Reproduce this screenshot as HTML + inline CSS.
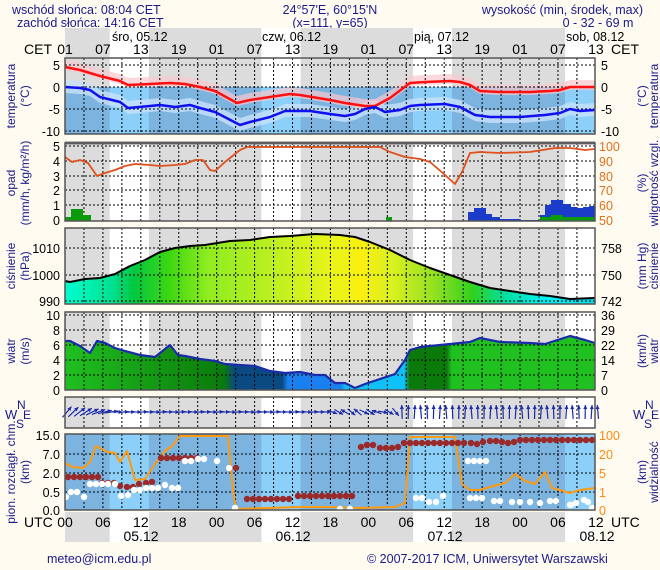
<!DOCTYPE html>
<html><head><meta charset="utf-8">
<style>
html,body{margin:0;padding:0;background:#fffbf0;}
svg{display:block;font-family:"Liberation Sans",sans-serif;}
</style></head>
<body>
<svg id="s" width="660" height="570" xmlns="http://www.w3.org/2000/svg"></svg>
<script>
var o=[];
function X(h){return 65+h*6.32;}
function poly(pts){return pts.map(function(p){return p[0]+','+p[1];}).join(' ');}
function T(x,y,t,a,c,sz,anch){o.push('<text x="'+x+'" y="'+y+'" fill="'+(c||'#000')+'" font-size="'+(sz||12.5)+'" text-anchor="'+(anch||'start')+'">'+t+'</text>');}
function RT(x,y,t,c){o.push('<text x="'+x+'" y="'+y+'" fill="'+c+'" font-size="12" text-anchor="middle" transform="rotate(-90 '+x+' '+y+')">'+t+'</text>');}
var L=65,R=595;
var days=[[109.7,148.9],[261.4,300.6],[413,452],[565,595]];
function bg(y1,y2,g,w){o.push('<rect x="'+L+'" y="'+y1+'" width="'+(R-L)+'" height="'+(y2-y1)+'" fill="'+g+'"/>');
 days.forEach(function(d){o.push('<rect x="'+d[0]+'" y="'+y1+'" width="'+(d[1]-d[0])+'" height="'+(y2-y1)+'" fill="'+w+'"/>');});}
function vgrid(y1,y2){for(var h=3;h<84;h+=3){var x=X(h);o.push('<line x1="'+x+'" y1="'+y1+'" x2="'+x+'" y2="'+y2+'" stroke="#000" stroke-dasharray="2,2" stroke-width="1"/>');}}
function hgrid(ys){ys.forEach(function(y){o.push('<line x1="'+L+'" y1="'+y+'" x2="'+R+'" y2="'+y+'" stroke="#000" stroke-dasharray="2,2" stroke-width="1"/>');});}
function frame(y1,y2){o.push('<rect x="'+L+'" y="'+y1+'" width="'+(R-L)+'" height="'+(y2-y1)+'" fill="none" stroke="#555" stroke-width="1.5"/>');}
function line(pts,c,w){o.push('<polyline points="'+poly(pts)+'" fill="none" stroke="'+c+'" stroke-width="'+w+'" stroke-linejoin="round"/>');}
function shift(pts,d){return pts.map(function(p){return [p[0],p[1]+d];});}
function band(pts,up,dn,c){var a=shift(pts,-up),b=shift(pts,dn).reverse();o.push('<polygon points="'+poly(a.concat(b))+'" fill="'+c+'"/>');}

var B='#1a1a8c';
T(12,14,'wschód słońca: 08:04 CET',0,B);
T(17,27,'zachód słońca: 14:16 CET',0,B);
T(330,14,'24°57\'E, 60°15\'N',0,B,12.5,'middle');
T(330,27,'(x=111, y=65)',0,B,12.5,'middle');
T(643,14,'wysokość (min, środek, max)',0,B,12.5,'end');
T(598,27,'0 - 32 - 69 m',0,B,12.5,'middle');
bg(28,57,'#dcdcdc','#ffffff');
T(112,41,'śro, 05.12',0,'#000',12.5);T(262,41,'czw, 06.12',0,'#000',12.5);T(414,41,'pią, 07.12',0,'#000',12.5);T(566,41,'sob, 08.12',0,'#000',12.5);
T(24,54,'CET',0,'#000',14);T(611,54,'CET',0,'#000',14);
var cet=['01','07','13','19'];
for(var i=0;i<=14;i++){T(X(i*6),54,cet[i%4],0,'#000',14,'middle');}
bg(512,542,'#dcdcdc','#ffffff');
T(24,527,'UTC',0,'#000',14);T(611,527,'UTC',0,'#000',14);
var utc=['00','06','12','18'];
for(var i=0;i<=14;i++){T(X(i*6),527,utc[i%4],0,'#000',14,'middle');}
T(141,541,'05.12',0,'#000',14,'middle');T(293,541,'06.12',0,'#000',14,'middle');T(445,541,'07.12',0,'#000',14,'middle');T(597,541,'08.12',0,'#000',14,'middle');

// TEMPERATURE
bg(58,134,'#dcdcdc','#ffffff');
o.push('<rect x="'+L+'" y="87" width="'+(R-L)+'" height="47" fill="#7db3df"/>');
days.forEach(function(d){o.push('<rect x="'+d[0]+'" y="87" width="'+(d[1]-d[0])+'" height="47" fill="#8ccff8"/>');});
var red=[[65,67],[80,70],[100,76],[120,81],[128,85],[150,84],[170,83],[185,84],[200,87],[215,91],[237,103],[250,100],[270,97],[290,94],[300,95],[330,100],[345,103],[365,106],[375,106],[390,98],[410,83],[425,82],[450,81],[460,82],[470,85],[480,91],[500,92],[530,92],[550,91],[560,90],[570,87],[595,87]];
var blue=[[65,87],[80,88],[90,90],[100,97],[120,102],[128,108],[150,106],[160,105],[175,107],[190,105],[200,108],[215,112],[240,125],[250,122],[270,117],[285,111],[310,111],[330,114],[345,116],[355,114],[365,109],[375,107],[385,112],[400,110],[410,106],[420,105],[445,104],[460,107],[475,115],[490,117],[520,117],[545,115],[560,113],[570,109],[580,111],[595,110]];
band(blue,7,6,'rgba(200,225,250,0.8)');
band(red,7,3,'rgba(250,200,205,0.7)');
vgrid(58,134);hgrid([65,87,109,131]);
line(red,'#ff1010',2.5);line(blue,'#1010ee',2.5);
frame(58,134);
[[5,65],[0,87],[-5,109],[-10,131]].forEach(function(t){T(60,t[1]+5,t[0],0,'#000',12.5,'end');T(601,t[1]+5,t[0],0,'#000',12.5);});
RT(15,96,'temperatura',B);RT(29,96,'(°C)',B);RT(646,96,'(°C)',B);RT(658,96,'temperatura',B);

// PRECIP
bg(143,221,'#dcdcdc','#ffffff');
vgrid(143,221);hgrid([146,161,176,190,205]);
o.push('<rect x="65" y="217" width="6" height="4" fill="#0a9a0a"/><rect x="71" y="209" width="12" height="12" fill="#0a9a0a"/><rect x="83" y="215" width="8" height="6" fill="#0a9a0a"/><rect x="386" y="217" width="6" height="4" fill="#0a9a0a"/>');
var pb=[[468,212],[474,208],[480,208],[486,214],[492,217],[500,219],[520,220],[540,215],[545,205],[551,200],[557,200],[563,204],[571,207],[577,208],[583,207],[589,206],[595,206]];
var pts=[[468,221]];pb.forEach(function(p,i){var nx=i<pb.length-1?pb[i+1][0]:595;pts.push([p[0],p[1]]);pts.push([nx,p[1]]);});pts.push([595,221]);
o.push('<polygon points="'+poly(pts)+'" fill="#1a3cc8"/>');
o.push('<rect x="540" y="217" width="55" height="4" fill="#0a9a0a"/><rect x="551" y="215" width="12" height="6" fill="#0a9a0a"/>');
var hum=[[65,157],[72,162],[80,160],[88,163],[97,176],[105,173],[115,170],[125,166],[135,164],[150,165],[160,166],[175,165],[185,164],[195,160],[203,160],[210,170],[215,171],[225,162],[240,150],[247,147],[330,147],[380,147],[390,152],[405,157],[420,159],[430,162],[445,175],[455,184],[462,172],[470,153],[480,152],[500,153],[530,152],[555,148],[570,148],[585,150],[595,149]];
line(hum,'#e0501c',1.8);
o.push('<line x1="65" y1="143" x2="595" y2="143" stroke="#777" stroke-width="3"/>');
frame(143,221);
[[5,146],[4,161],[3,176],[2,190],[1,205],[0,220]].forEach(function(t){T(60,t[1]+5,t[0],0,'#000',12.5,'end');});
[[100,146],[90,161],[80,176],[70,190],[60,205],[50,220]].forEach(function(t){T(599,t[1]+5,t[0],0,'#e0701c',12.5);});
RT(15,183,'opad',B);RT(29,183,'(mm/h, kg/m²/h)',B);RT(646,183,'(%)',B);RT(658,183,'wilgotność wzgl.',B);

// PRESSURE
bg(228,304,'#dcdcdc','#ffffff');
o.push('<defs><linearGradient id="pg" x1="65" y1="0" x2="595" y2="0" gradientUnits="userSpaceOnUse"><stop offset="0" stop-color="#00ffd0"/><stop offset="0.09" stop-color="#00e090"/><stop offset="0.13" stop-color="#00c840"/><stop offset="0.2" stop-color="#40d810"/><stop offset="0.27" stop-color="#90ec20"/><stop offset="0.4" stop-color="#c0f020"/><stop offset="0.5" stop-color="#e8f418"/><stop offset="0.56" stop-color="#f8f010"/><stop offset="0.62" stop-color="#d8f020"/><stop offset="0.7" stop-color="#90e020"/><stop offset="0.77" stop-color="#30d020"/><stop offset="0.83" stop-color="#00e0a0"/><stop offset="0.9" stop-color="#00f0f0"/><stop offset="1" stop-color="#00e0f0"/></linearGradient>'+
'<linearGradient id="wg" x1="65" y1="0" x2="595" y2="0" gradientUnits="userSpaceOnUse"><stop offset="0" stop-color="#20c020"/><stop offset="0.3" stop-color="#0a7a0a"/><stop offset="0.32" stop-color="#0a4a80"/><stop offset="0.41" stop-color="#0a4a80"/><stop offset="0.42" stop-color="#1a80f0"/><stop offset="0.52" stop-color="#1a80f0"/><stop offset="0.53" stop-color="#10c0f8"/><stop offset="0.64" stop-color="#10c0f8"/><stop offset="0.65" stop-color="#0a7a0a"/><stop offset="0.72" stop-color="#0a7a0a"/><stop offset="0.73" stop-color="#20c020"/><stop offset="1" stop-color="#20c020"/></linearGradient></defs>');
var pr=[[65,281],[70,282],[85,279],[100,278],[115,274],[130,266],[145,260],[160,252],[175,248],[190,246],[205,245],[230,241],[250,240],[270,237],[290,236],[315,234],[340,235],[355,237],[370,242],[390,250],[410,260],[430,268],[450,275],[470,282],[490,288],[510,291],[530,294],[550,296],[570,299],[595,298]];
o.push('<polygon points="'+poly([[65,304]].concat(pr,[[595,304]]))+'" fill="url(#pg)"/>');
vgrid(228,304);hgrid([248,275,301]);
line(pr,'#000',2);
frame(228,304);
[[1010,248],[1000,275],[990,301]].forEach(function(t){T(60,t[1]+5,t[0],0,'#000',12.5,'end');});
[[758,248],[750,275],[742,301]].forEach(function(t){T(601,t[1]+5,t[0],0,'#000',12.5);});
RT(15,266,'ciśnienie',B);RT(29,266,'(hPa)',B);RT(646,266,'(mm Hg)',B);RT(658,266,'ciśnienie',B);

// WIND
bg(312,390,'#dcdcdc','#ffffff');
var wd=[[65,341],[70,341],[80,346],[90,353],[97,341],[105,343],[115,348],[125,351],[140,355],[155,357],[170,345],[178,355],[185,356],[200,359],[215,361],[225,364],[240,365],[255,366],[270,371],[285,373],[300,372],[315,375],[325,375],[335,383],[345,383],[355,388],[365,384],[380,379],[395,374],[405,360],[410,350],[420,347],[440,345],[470,342],[480,338],[500,342],[530,343],[545,344],[570,336],[585,340],[595,343]];
o.push('<polygon points="'+poly([[65,390]].concat(wd,[[595,390]]))+'" fill="url(#wg)"/>');
vgrid(312,390);hgrid([315,330,345,360,375]);
line(wd,'#1a2aa8',2.2);
frame(312,390);
[[10,315],[8,330],[6,345],[4,360],[2,375],[0,390]].forEach(function(t){T(60,t[1]+5,t[0],0,'#000',12.5,'end');});
[[36,315],[29,330],[22,345],[14,360],[7,375],[0,390]].forEach(function(t){T(601,t[1]+5,t[0],0,'#000',12.5);});
RT(15,351,'wiatr',B);RT(29,351,'(m/s)',B);RT(646,351,'(km/h)',B);RT(658,351,'wiatr',B);

// WIND DIR
bg(397,428,'#dcdcdc','#ffffff');
vgrid(397,428);
for(var h=0;h<=84;h++){var x=X(h)+2,ang;
 if(h<8)ang=40+h*6;else if(h<42)ang=85+(h%3)*3;else if(h<53)ang=[110,120,300,130,310,115,125,290,100,120,140][h-42];else ang=-5+(h%4)*3;
 var r=ang*Math.PI/180,len=h<8?14:(h>=53?14:10),cx=x,cy=412;
 var dx=Math.sin(r)*len/2,dy=-Math.cos(r)*len/2;
 o.push('<line x1="'+(cx-dx)+'" y1="'+(cy-dy)+'" x2="'+(cx+dx)+'" y2="'+(cy+dy)+'" stroke="#1a2aa8" stroke-width="1.2"/>');
 var hx=cx+dx,hy=cy+dy,bx=-Math.sin(r)*4,by=Math.cos(r)*4,px=Math.cos(r)*2,py=Math.sin(r)*2;
 o.push('<polygon points="'+hx+','+hy+' '+(hx+bx+px)+','+(hy+by+py)+' '+(hx+bx-px)+','+(hy+by-py)+'" fill="#1a2aa8"/>');}
frame(397,428);
T(5,419,'W',0,B,13);T(17,409,'N',0,B,12);T(16,428,'S',0,B,12);T(23,419,'E',0,B,12);
T(633,419,'W',0,B,13);T(645,409,'N',0,B,12);T(644,428,'S',0,B,12);T(651,419,'E',0,B,12);

// CLOUDS
bg(434,510,'#7db3df','#8ccff8');
vgrid(434,510);hgrid([454,473,492]);
var vis=[[65,463],[72,467],[83,468],[90,462],[96,446],[107,452],[115,453],[120,462],[127,451],[135,480],[145,479],[155,464],[165,451],[172,446],[180,436],[228,436],[233,490],[236,509],[300,507],[330,507],[360,508],[395,507],[405,503],[410,437],[455,437],[462,484],[470,490],[480,490],[490,487],[505,483],[515,474],[525,481],[535,484],[545,472],[552,488],[570,493],[580,490],[595,488]];
line(vis,'#ff9a10',2);
var dots='';
function dot(x,y,c){dots+='<circle cx="'+x+'" cy="'+y+'" r="3.2" fill="'+c+'"/>';}
var M='#9a2a2a',W='#ffffff';
for(var x=68;x<=98;x+=6)dot(x,477,M);
[[102,483],[108,483],[114,483],[120,486],[127,487],[133,487],[139,484],[146,483],[152,482]].forEach(function(p){dot(p[0],p[1],M);});
for(var x=161;x<=198;x+=6)dot(x,458,M);
dot(229,468,M);dot(236,468,M);
for(var x=247;x<=292;x+=6)dot(x,499,M);
for(var x=298;x<=357;x+=6)dot(x,496,M);
[[361,447],[367,445],[373,445],[380,448],[386,448],[392,448],[398,447],[404,443]].forEach(function(p){dot(p[0],p[1],M);});
for(var x=410;x<=465;x+=6)dot(x,443,M);
[[471,443],[477,444],[483,442],[490,441],[496,441],[502,442],[508,443],[514,442]].forEach(function(p){dot(p[0],p[1],M);});
for(var x=520;x<=596;x+=6)dot(x,440,M);
[[66,497],[71,492],[77,492],[84,497],[90,484],[96,484],[102,484],[108,484],[115,484],[121,496],[128,495],[134,490],[140,490],[146,488],[152,488],[158,488],[165,485],[172,488],[178,488],[185,461],[191,461],[198,459],[204,459],[217,461],[229,468],[235,508],[340,509],[350,509],[416,498],[422,498],[429,502],[436,502],[443,496],[468,461],[474,461],[480,461],[486,461],[470,498],[476,498],[482,498],[494,501],[500,501],[512,502],[520,502],[530,502],[540,503],[550,501],[556,501],[570,505],[592,508],[598,500],[571,505],[576,503],[584,500],[588,502]].forEach(function(p){dot(p[0],p[1],W);});
o.push(dots);
frame(434,510);
[['15.0',435],['7.0',454],['2.0',473],['0.5',492],['0.0',510]].forEach(function(t){T(60,t[1]+5,t[0],0,'#000',12.5,'end');});
[['100',435],['20',454],['5',473],['1',492],['0',510]].forEach(function(t){T(599,t[1]+5,t[0],0,'#ff8a10',12.5);});
RT(15,472,'pion. rozciągł. chm.',B);RT(29,472,'(km)',B);RT(646,472,'(km)',B);RT(658,472,'widzialność',B);

T(47,563,'meteo@icm.edu.pl',0,B,12.5);
T(367,563,'© 2007-2017 ICM, Uniwersytet Warszawski',0,B,12.5);
document.getElementById('s').innerHTML=o.join('');
</script>
</body></html>
